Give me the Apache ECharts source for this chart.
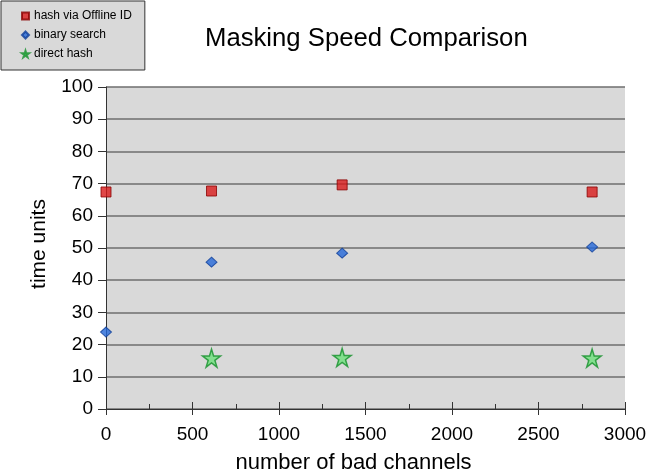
<!DOCTYPE html>
<html><head><meta charset="utf-8">
<script src="https://cdn.jsdelivr.net/npm/echarts@6/dist/echarts.min.js"></script>
<style>html,body{margin:0;padding:0;background:#fff}#c{width:649px;height:474px}</style>
</head><body><div id="c"></div>
<script>
const seriesNames = ['hash via Offline ID', 'binary search', 'direct hash'];
const hashOfflineX = [0, 610, 1365, 2810];
const hashOfflineY = [67.4, 67.7, 69.6, 67.4];
const binarySearchX = [0, 610, 1365, 2810];
const binarySearchY = [23.9, 45.6, 48.4, 50.3];
const directHashX = [610, 1365, 2810];
const directHashY = [15.8, 16.0, 15.8];
const xTicks = [0, 500, 1000, 1500, 2000, 2500, 3000];
const yTicks = [0, 10, 20, 30, 40, 50, 60, 70, 80, 90, 100];

const zip = (a, b) => a.map((v, i) => [v, b[i]]);
const starPath = 'path://M50,0 L61,35 L98,35 L68,57 L79,91 L50,70 L21,91 L32,57 L2,35 L39,35 Z';
const font = 'Liberation Sans, Arial, sans-serif';
const axisCol = '#333';

const chart = echarts.init(document.getElementById('c'), null, {renderer: 'canvas'});
chart.setOption({
  animation: false,
  backgroundColor: '#fff',
  title: {
    text: 'Masking Speed Comparison', left: 200, top: 21,
    textStyle: {fontFamily: font, fontSize: 25.7, fontWeight: 'normal', color: '#000'}
  },
  legend: {
    orient: 'vertical', left: 1, top: 1,
    padding: [8, 13, 9, 20], itemGap: 5, itemWidth: 7, itemHeight: 7,
    backgroundColor: '#d9d9d9', borderColor: '#333', borderWidth: 1,
    textStyle: {fontFamily: font, fontSize: 12, color: '#000', lineHeight: 14},
    data: [
      {name: seriesNames[0], icon: 'rect'},
      {name: seriesNames[1], icon: 'diamond'},
      {name: seriesNames[2], icon: starPath}
    ]
  },
  grid: {
    left: 106, right: 24, top: 87, bottom: 65, show: true,
    outerBoundsMode: 'none', containLabel: false,
    backgroundColor: '#d9d9d9', borderWidth: 0
  },
  xAxis: [{
    type: 'value', min: 0, max: 3000, interval: 500, position: 'bottom',
    name: 'number of bad channels', nameLocation: 'middle', nameGap: 43,
    nameTextStyle: {fontFamily: font, fontSize: 22, color: '#000', padding: [0, 24, 0, 0]},
    axisLine: {show: true, lineStyle: {color: axisCol, width: 1}},
    axisTick: {show: true, inside: true, length: 7, lineStyle: {color: axisCol}},
    minorTick: {show: true, splitNumber: 2, length: 5, lineStyle: {color: axisCol}},
    axisLabel: {fontFamily: font, fontSize: 19, color: '#000', margin: 16,
      formatter: v => xTicks.includes(v) ? String(v) : ''},
    splitLine: {show: false}
  }, {
    type: 'value', min: 0, max: 3000, interval: 500, position: 'bottom',
    axisLine: {show: false},
    axisTick: {show: true, inside: false, length: 6, lineStyle: {color: axisCol}},
    axisLabel: {show: false},
    splitLine: {show: false}
  }],
  yAxis: {
    type: 'value', min: 0, max: 100, interval: 10,
    name: 'time units', nameLocation: 'middle', nameGap: 56,
    nameTextStyle: {fontFamily: font, fontSize: 21, color: '#000', padding: [0, 0, 0, 8]},
    axisLine: {show: true, lineStyle: {color: axisCol, width: 1}},
    axisTick: {show: true, length: 8, inside: false, lineStyle: {color: axisCol}},
    axisLabel: {fontFamily: font, fontSize: 19, color: '#000', margin: 13,
      formatter: v => yTicks.includes(v) ? String(v) : ''},
    splitLine: {show: true, lineStyle: {color: '#6e6e6e', width: 1.5}}
  },
  series: [
    {
      name: seriesNames[0], type: 'scatter', data: zip(hashOfflineX, hashOfflineY),
      symbol: 'rect', symbolSize: 10,
      itemStyle: {color: '#d81a1a', borderColor: '#8a0000', borderWidth: 1}
    },
    {
      name: seriesNames[1], type: 'scatter', data: zip(binarySearchX, binarySearchY),
      symbol: 'diamond', symbolSize: [11, 10],
      itemStyle: {color: '#2468d8', borderColor: '#0f3f99', borderWidth: 1}
    },
    {
      name: seriesNames[2], type: 'scatter', data: zip(directHashX, directHashY),
      symbol: starPath, symbolSize: 18,
      itemStyle: {color: '#6de07a', borderColor: '#14902a', borderWidth: 1.5}
    }
  ]
});
</script></body></html>
